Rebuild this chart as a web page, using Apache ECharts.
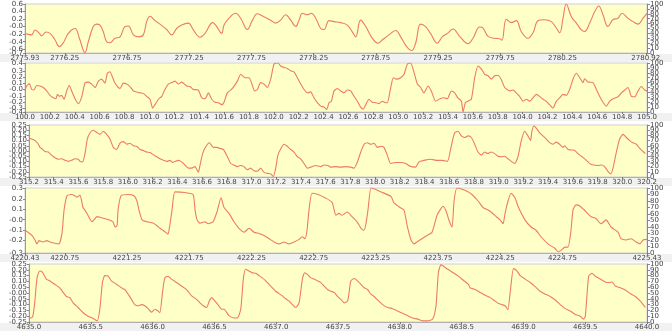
<!DOCTYPE html>
<html>
<head>
<meta charset="utf-8">
<script src="https://cdn.jsdelivr.net/npm/echarts@6/dist/echarts.min.js"></script>
<style>
  html, body { margin: 0; padding: 0; background: #fff; }
  #chart { width: 672px; height: 332px; }
</style>
</head>
<body>
<div id="chart"></div>
<script>
// panel start values (x axis)
var start1 = 2775.93, start2 = 100.0, start3 = 315.2, start4 = 4220.43, start5 = 4635.0;

// x tick labels per panel
var xTicks1 = [2775.93, 2776.25, 2776.75, 2777.25, 2777.75, 2778.25, 2778.75, 2779.25, 2779.75, 2780.25, 2780.92];
var xTicks2 = [100.0, 100.2, 100.4, 100.6, 100.8, 101.0, 101.2, 101.4, 101.6, 101.8, 102.0, 102.2, 102.4, 102.6, 102.8, 103.0, 103.2, 103.4, 103.6, 103.8, 104.0, 104.2, 104.4, 104.6, 104.8, 105.0];
var xTicks3 = [315.2, 315.4, 315.6, 315.8, 316.0, 316.2, 316.4, 316.6, 316.8, 317.0, 317.2, 317.4, 317.6, 317.8, 318.0, 318.2, 318.4, 318.6, 318.8, 319.0, 319.2, 319.4, 319.6, 319.8, 320.0, 320.2];
var xTicks4 = [4220.43, 4220.75, 4221.25, 4221.75, 4222.25, 4222.75, 4223.25, 4223.75, 4224.25, 4224.75, 4225.43];
var xTicks5 = [4635.0, 4635.5, 4636.0, 4636.5, 4637.0, 4637.5, 4638.0, 4638.5, 4639.0, 4639.5, 4640.0];

// left y tick labels per panel
var yTicks1 = [-0.7, -0.6, -0.4, -0.2, 0, 0.2, 0.4, 0.6];
var yTicks2 = [-0.36, -0.3, -0.2, -0.1, 0, 0.1, 0.2, 0.3, 0.43];
var yTicks3 = [-0.25, -0.2, -0.15, -0.1, -0.05, 0, 0.05, 0.1, 0.15, 0.2, 0.25];
var yTicks4 = [-0.325, -0.2, -0.1, 0, 0.1, 0.2, 0.31];
var yTicks5 = [-0.25, -0.2, -0.15, -0.1, -0.05, 0, 0.05, 0.1, 0.15, 0.2, 0.25];

// right y tick labels (same on every panel)
var rightTicks = [0, 10, 20, 30, 40, 50, 60, 70, 80, 90, 100];

// panel 1 : offsets from start, values (right axis 0-100)
var t1 = [0.000,0.027,0.054,0.080,0.115,0.134,0.169,0.201,0.241,0.276,0.308,0.348,0.402,0.437,0.482,0.509,0.549,0.576,0.603,0.630,0.656,0.683,0.723,0.764,0.804,0.831,0.871,0.911,0.951,0.978,1.005,1.045,1.085,1.139,1.179,1.219,1.259,1.313,1.353,1.407,1.447,1.509,1.541,1.581,
  1.600,1.640,1.693,1.734,1.787,1.827,1.868,1.921,1.975,2.015,2.055,2.095,2.136,2.176,2.203,2.230,2.270,2.302,2.337,2.377,2.404,2.444,2.484,2.538,2.591,2.631,2.658,2.698,2.739,2.792,2.838,2.873,2.926,2.980,3.020,3.068,3.108,3.140,3.180,3.220,3.260,3.314,3.354,3.395,
  3.441,3.494,3.561,3.601,3.655,3.682,3.722,3.775,3.816,3.834,3.869,3.909,3.949,3.989,4.043,4.083,4.124,4.177,4.231,4.271,4.298,4.325,4.351,4.392,4.432,4.472,4.499,4.539,4.579,4.612,4.646,4.686,4.726,4.767,4.799,4.847,4.887,4.928,4.968,5.000];
var v1 = [40,38,37,47,40,35,43,40,27,13,21,40,50,30,1,23,54,59,57,43,23,21,30,33,54,55,37,33,37,64,75,66,59,48,37,50,57,61,47,32,40,62,54,40,
  57,71,81,71,48,66,80,74,67,61,67,78,67,54,67,81,78,81,71,50,48,66,64,62,57,43,33,67,54,30,20,27,37,46,33,13,5,20,59,54,40,20,33,40,
  49,34,19,30,53,51,34,30,29,26,69,62,66,44,30,41,66,68,64,51,41,71,100,74,61,47,44,61,84,96,78,54,68,71,81,71,64,59,71,81];

// panel 2
var t2 = [0.000,0.013,0.035,0.054,0.072,0.094,0.121,0.147,0.174,0.201,0.228,0.249,0.260,0.276,0.295,0.314,0.335,0.356,0.375,0.402,0.429,0.456,0.482,0.509,0.536,0.563,0.590,0.616,0.643,0.662,0.683,0.705,0.723,0.750,0.764,0.790,0.817,0.844,0.871,0.898,0.924,0.951,0.978,1.005,1.026,1.045,1.072,1.099,1.125,1.152,1.179,1.206,1.233,1.259,1.300,1.326,1.353,1.393,1.420,1.447,1.474,1.501,1.527,1.554,1.581,
  1.600,1.626,1.667,1.707,1.734,1.766,1.801,1.819,1.846,1.868,1.894,1.921,1.948,1.975,2.002,2.034,2.055,2.082,2.109,2.136,2.162,2.189,2.216,2.243,2.270,2.296,2.323,2.350,2.377,2.404,2.425,2.444,2.463,2.484,2.511,2.538,2.564,2.591,2.618,2.645,2.672,2.698,2.720,2.739,2.765,2.792,2.819,2.846,2.873,2.899,2.913,2.940,2.961,2.988,3.020,3.047,3.074,3.100,3.127,3.154,3.181,3.207,3.240,3.266,3.301,3.336,3.368,3.395,
  3.427,3.454,3.479,3.508,3.521,3.540,3.561,3.588,3.615,3.641,3.668,3.695,3.722,3.749,3.775,3.802,3.829,3.856,3.896,3.923,3.949,3.976,4.003,4.030,4.057,4.083,4.110,4.137,4.164,4.190,4.217,4.244,4.271,4.298,4.325,4.351,4.378,4.405,4.432,4.459,4.485,4.499,4.526,4.566,4.593,4.619,4.646,4.673,4.700,4.727,4.767,4.794,4.821,4.847,4.874,4.901,4.928,4.954,4.981,5.000];
var v2 = [43,53,58,46,45,54,53,50,43,34,29,27,36,32,34,26,43,54,43,27,17,31,59,61,57,50,63,67,59,79,82,70,59,50,48,59,57,52,43,41,39,38,32,26,8,15,26,32,46,57,60,63,57,61,53,52,46,45,29,27,39,26,20,19,15,
  20,39,48,63,77,70,70,61,43,46,60,57,50,67,98,100,94,91,89,84,82,70,57,46,39,41,29,19,12,10,5,19,22,43,48,43,39,45,43,32,22,10,6,15,26,20,19,17,22,19,19,50,70,67,70,77,98,100,81,57,50,39,53,43,22,27,29,27,
  43,39,29,22,0,19,22,26,70,94,88,77,74,67,74,75,66,50,43,45,39,32,22,26,22,29,36,32,26,22,15,8,22,29,36,34,46,67,79,70,60,68,61,60,46,32,20,12,22,27,31,39,45,50,32,31,43,52,45,43];

// panel 3
var t3 = [0.000,0.022,0.049,0.076,0.089,0.111,0.129,0.156,0.183,0.210,0.237,0.264,0.291,0.318,0.345,0.372,0.399,0.413,0.434,0.453,0.472,0.494,0.520,0.547,0.574,0.601,0.628,0.655,0.682,0.709,0.736,0.763,0.790,0.817,0.844,0.871,0.898,0.925,0.952,0.979,1.006,1.033,1.060,1.087,1.114,1.141,1.162,1.181,1.208,1.235,1.262,1.289,1.316,1.343,1.370,1.384,1.405,1.432,1.459,1.491,1.518,1.545,1.572,
  1.605,1.632,1.658,1.685,1.712,1.739,1.766,1.793,1.820,1.847,1.874,1.901,1.928,1.955,1.977,1.996,2.014,2.036,2.063,2.085,2.112,2.144,2.171,2.198,2.225,2.252,2.279,2.319,2.360,2.387,2.419,2.441,2.481,2.522,2.562,2.603,2.630,2.657,2.684,2.711,2.738,2.764,2.791,2.818,2.845,2.872,2.899,2.926,2.967,3.007,3.048,3.088,3.128,3.155,3.196,3.250,3.304,3.344,3.385,
  3.417,3.444,3.471,3.498,3.525,3.552,3.579,3.606,3.633,3.660,3.686,3.713,3.740,3.767,3.794,3.821,3.848,3.875,3.902,3.929,3.956,3.983,4.010,4.037,4.058,4.069,4.085,4.104,4.131,4.158,4.185,4.212,4.239,4.266,4.293,4.320,4.333,4.361,4.388,4.415,4.442,4.469,4.496,4.523,4.550,4.577,4.604,4.630,4.657,4.684,4.706,4.725,4.752,4.779,4.806,4.833,4.860,4.887,4.914,4.941,4.968,4.987];
var v3 = [75,73,70,63,57,53,49,48,42,37,34,35,32,30,32,35,34,30,29,45,73,85,90,86,82,88,82,73,57,53,65,68,63,65,60,59,53,51,48,47,43,39,35,32,30,32,28,30,32,29,23,17,17,20,9,23,45,59,66,57,57,55,53,
  39,26,23,20,22,20,14,17,12,11,17,9,7,6,1,17,42,54,63,60,54,48,39,35,26,17,19,22,20,23,22,19,20,19,20,19,17,29,48,63,66,63,65,57,59,57,42,26,28,28,26,20,19,29,32,34,32,32,30,
  60,85,88,79,76,79,76,63,48,42,48,45,48,45,40,39,40,35,30,26,39,70,88,79,70,88,98,94,85,79,73,66,63,67,63,57,60,53,52,51,45,40,35,29,24,23,22,23,20,11,6,17,48,73,82,76,70,66,63,55,49,45];

// panel 4
var t4 = [0.000,0.024,0.056,0.080,0.096,0.113,0.145,0.177,0.201,0.241,0.273,0.297,0.314,0.338,0.378,0.418,0.442,0.466,0.482,0.506,0.539,0.579,0.603,0.659,0.707,0.724,0.740,0.748,0.772,0.828,0.876,0.900,0.916,0.941,0.981,1.029,1.061,1.085,1.109,1.142,1.150,1.166,1.182,1.206,1.286,1.351,1.367,1.383,1.407,1.447,1.471,1.511,1.543,1.576,
  1.600,1.640,1.680,1.720,1.761,1.801,1.841,1.881,1.921,1.962,2.002,2.042,2.082,2.122,2.163,2.203,2.227,2.251,2.267,2.283,2.307,2.355,2.412,2.468,2.500,2.524,2.548,2.589,2.629,2.669,2.701,2.725,2.741,2.757,2.782,2.814,2.862,2.942,2.966,3.015,3.047,3.071,3.103,3.127,3.151,3.191,3.232,3.272,3.312,3.336,
  3.360,3.384,3.409,3.433,3.449,3.473,3.513,3.553,3.593,3.642,3.682,3.722,3.746,3.794,3.819,3.843,3.859,3.883,3.907,3.939,3.963,4.019,4.068,4.108,4.148,4.204,4.261,4.285,4.309,4.341,4.365,4.389,4.405,4.430,4.462,4.502,4.550,4.590,4.630,4.671,4.711,4.767,4.791,4.832,4.872,4.912,4.944,4.968,5.000];
var v4 = [35,32,27,20,14,19,17,19,17,15,14,30,66,88,90,86,89,70,66,58,48,56,55,52,48,40,42,66,88,90,88,80,66,51,48,46,42,38,35,30,29,45,66,94,93,90,66,51,46,48,45,48,63,85,
  70,61,48,38,32,38,32,30,27,22,17,14,17,14,17,21,25,22,35,66,92,90,85,78,58,61,58,63,56,48,38,35,45,66,100,98,94,87,77,70,66,43,20,14,17,22,27,32,58,66,
  72,65,50,40,80,100,98,95,90,80,70,66,63,55,51,45,61,80,92,85,72,51,40,35,25,14,7,2,4,9,9,35,66,74,72,65,56,53,45,51,40,32,22,20,22,17,14,20,21];

// panel 5
var t5 = [0.000,0.019,0.032,0.046,0.065,0.086,0.108,0.140,0.167,0.208,0.249,0.276,0.303,0.330,0.357,0.397,0.438,0.478,0.519,0.551,0.573,0.594,0.613,0.640,0.667,0.708,0.748,0.775,0.802,0.829,0.856,0.883,0.910,0.937,0.964,0.991,1.018,1.045,1.059,1.080,1.099,1.126,1.153,1.194,1.234,1.275,1.316,1.356,1.383,1.410,1.437,1.459,1.478,1.505,1.532,1.559,
  1.578,1.618,1.659,1.686,1.713,1.734,1.753,1.780,1.807,1.834,1.861,1.888,1.915,1.942,1.969,1.996,2.023,2.050,2.077,2.104,2.131,2.158,2.185,2.212,2.231,2.253,2.280,2.307,2.334,2.361,2.388,2.415,2.442,2.469,2.496,2.523,2.550,2.577,2.590,2.604,2.631,2.658,2.685,2.712,2.739,2.766,2.793,2.820,2.861,2.901,2.942,2.982,3.023,3.063,3.104,3.145,3.185,3.225,3.266,3.293,3.312,3.334,3.361,3.388,
  3.433,3.474,3.514,3.555,3.569,3.609,3.650,3.690,3.731,3.771,3.798,3.825,3.852,3.874,3.893,3.920,3.947,3.974,4.014,4.055,4.095,4.136,4.177,4.217,4.258,4.298,4.339,4.379,4.420,4.460,4.487,4.501,4.528,4.555,4.582,4.622,4.663,4.690,4.717,4.744,4.784,4.825,4.865,4.906,4.946,4.987];
var v5 = [7,7,11,33,76,88,86,74,71,65,59,51,44,42,33,25,16,10,6,2,22,68,80,79,71,65,59,56,48,39,30,28,30,28,23,17,22,19,16,51,76,79,74,68,62,56,45,39,33,28,25,36,42,36,29,22,
  22,11,7,7,22,74,91,88,85,84,80,76,71,65,59,53,49,45,40,36,30,25,33,74,85,82,76,74,71,68,62,56,53,51,44,39,33,36,51,71,75,71,65,59,56,48,44,38,30,25,23,19,15,11,7,5,2,2,5,28,85,99,95,91,
  85,79,72,65,59,56,51,46,42,36,32,30,28,21,51,92,88,80,74,68,61,53,48,44,38,30,23,19,13,10,5,10,79,84,79,74,69,68,69,62,59,55,49,44,36,25];

function pts(start, t, v) {
  return t.map(function (d, i) { return [start + d, v[i]]; });
}

function yFmt(dec) {
  return function (val) {
    if (Math.abs(val) < 1e-9) return '-' + (0).toFixed(dec);
    return val.toFixed(dec);
  };
}

// every other entry, so that close labels are not thinned out by the layout
function half(arr, odd) {
  return arr.filter(function (d, i) { return i % 2 === (odd ? 1 : 0); });
}

var labelFont = { fontFamily: 'DejaVu Sans', fontSize: 7, color: '#444' };

// grid boxes
var panels = [
  { left: 25, top: 4,   height: 49, start: start1, xTicks: xTicks1, xDec: 2, yTicks: yTicks1, yDec: 1, data: pts(start1, t1, v1), smooth: 0.4 },
  { left: 25, top: 63,  height: 49, start: start2, xTicks: xTicks2, xDec: 1, yTicks: yTicks2, yDec: 1, data: pts(start2, t2, v2), smooth: 0.2 },
  { left: 29, top: 125, height: 52, start: start3, xTicks: xTicks3, xDec: 1, yTicks: yTicks3, yDec: 2, data: pts(start3, t3, v3), smooth: 0.2 },
  { left: 25, top: 188, height: 65, start: start4, xTicks: xTicks4, xDec: 2, yTicks: yTicks4, yDec: 1, data: pts(start4, t4, v4), smooth: 0.2 },
  { left: 29, top: 264, height: 58, start: start5, xTicks: xTicks5, xDec: 1, yTicks: yTicks5, yDec: 2, data: pts(start5, t5, v5), smooth: 0.2 }
];

var grids = [], xAxes = [], yAxes = [], series = [], graphics = [];

panels.forEach(function (p, i) {
  grids.push({
    left: p.left, right: 25, top: p.top, height: p.height,
    show: true, backgroundColor: '#ffffc8', borderColor: '#cfcfcf', borderWidth: 1
  });
  // gray band behind x labels
  graphics.push({
    type: 'rect', z: -10,
    shape: { x: 0, y: p.top + p.height + 1, width: 672, height: 8 },
    style: { fill: '#f1f1f1' }
  });
  xAxes.push({
    type: 'value', gridIndex: i,
    min: p.start, max: p.start + 5,
    splitLine: { show: false },
    axisLine: { onZero: false, lineStyle: { color: '#b0b0b0' } },
    axisTick: { customValues: p.xTicks, length: 2, lineStyle: { color: '#777' } },
    axisLabel: Object.assign({
      customValues: p.xTicks, margin: 2, showMinLabel: true, showMaxLabel: true, hideOverlap: false,
      formatter: function (v) { return v.toFixed(p.xDec); }
    }, labelFont)
  });
  var lo = p.yTicks[0], hi = p.yTicks[p.yTicks.length - 1];
  var base = yAxes.length;
  // left axis, labels split over two axes at the same place
  [0, 1].forEach(function (odd) {
    yAxes.push({
      type: 'value', gridIndex: i, position: 'left', offset: 0,
      min: lo, max: hi,
      splitLine: { show: false },
      axisLine: { show: odd === 0, onZero: false, lineStyle: { color: '#9a9a9a' } },
      axisTick: { show: true, customValues: half(p.yTicks, odd), length: 2, lineStyle: { color: '#888' } },
      axisLabel: Object.assign({
        customValues: half(p.yTicks, odd), margin: 2, showMinLabel: true, showMaxLabel: true, hideOverlap: false,
        formatter: yFmt(p.yDec)
      }, labelFont)
    });
  });
  // right axis 0-100, also split
  [0, 1].forEach(function (odd) {
    yAxes.push({
      type: 'value', gridIndex: i, position: 'right', offset: 0,
      min: 0, max: 100,
      splitLine: { show: false },
      axisLine: { show: odd === 0, onZero: false, lineStyle: { color: '#8080c8' } },
      axisTick: { show: true, customValues: half(rightTicks, odd), length: 3, lineStyle: { color: '#8080c8' } },
      axisLabel: Object.assign({
        customValues: half(rightTicks, odd), margin: 3, showMinLabel: true, showMaxLabel: true, hideOverlap: false
      }, labelFont)
    });
  });
  series.push({
    type: 'line', xAxisIndex: i, yAxisIndex: base + 2,
    data: p.data, showSymbol: false, smooth: p.smooth,
    lineStyle: { color: '#ee7a68', width: 1.1 },
    silent: true, animation: false
  });
});

var chart = echarts.init(document.getElementById('chart'), null, { renderer: 'canvas' });
chart.setOption({
  backgroundColor: '#ffffff',
  animation: false,
  graphic: graphics,
  grid: grids,
  xAxis: xAxes,
  yAxis: yAxes,
  series: series
});
</script>
</body>
</html>
